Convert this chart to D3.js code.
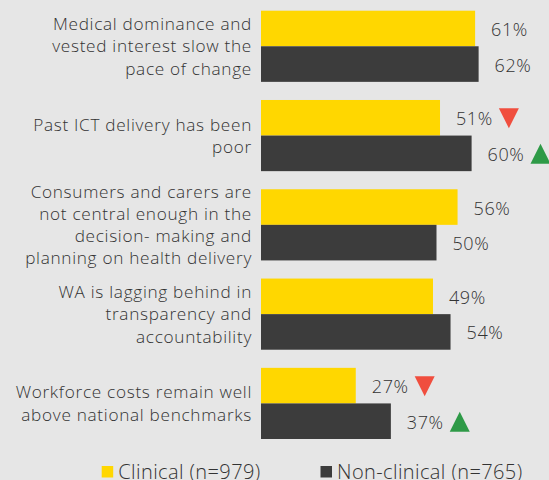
<!DOCTYPE html>
<html>
<head>
<meta charset="utf-8">
<script src="https://cdn.jsdelivr.net/npm/d3@7"></script>
<style>
  html, body { margin: 0; padding: 0; background: #e6e6e6; }
  svg { display: block; }
</style>
</head>
<body>
<script>
var svgWidth = 549;
var svgHeight = 480;

// categories, each label split in lines as in the picture
var categories = [
    ["Medical dominance and", "vested interest slow the", "pace of change"],
    ["Past ICT delivery has been", "poor"],
    ["Consumers and carers are", "not central enough in the", "decision- making and", "planning on health delivery"],
    ["WA is lagging behind in", "transparency and", "accountability"],
    ["Workforce costs remain well", "above national benchmarks"]
];
var seriesNames = ["Clinical (n=979)", "Non-clinical (n=765)"];
var clinical = [61, 51, 56, 49, 27];
var nonClinical = [62, 60, 50, 54, 37];
// arrows next to values: "down", "up" or null
var clinicalTrend = [null, "down", null, null, "down"];
var nonClinicalTrend = [null, "up", null, null, "up"];

var colors = ["#ffd700", "#3c3c3c"];

var svg = d3.select("body").append("svg")
    .attr("width", svgWidth)
    .attr("height", svgHeight)
    .style("font-family", "'Open Sans', sans-serif")
    .style("font-weight", 300);

svg.append("rect")
    .attr("width", svgWidth)
    .attr("height", svgHeight)
    .attr("fill", "#e6e6e6");

var idx = d3.range(categories.length);

var xScale = d3.scaleLinear()
    .domain([0, 100])
    .range([261, 612]);

var yScale = d3.scaleBand()
    .domain(idx)
    .range([10.7, 439])
    .paddingInner(0.203)
    .paddingOuter(0);

var ySub = d3.scaleBand()
    .domain([0, 1])
    .range([0, yScale.bandwidth()]);

var rows = [];
idx.forEach(function(i) {
    rows.push({cat: i, s: 0, v: clinical[i], trend: clinicalTrend[i]});
    rows.push({cat: i, s: 1, v: nonClinical[i], trend: nonClinicalTrend[i]});
});

// category labels
var labels = svg.append("g").selectAll("text")
    .data(idx)
    .enter()
    .append("text")
    .attr("text-anchor", "end")
    .attr("font-size", "17.2px")
    .attr("letter-spacing", "0.7px")
    .attr("fill", "#333");

labels.each(function(i) {
    var lines = categories[i];
    var lh = 22.3;
    var cy = yScale(i) + yScale.bandwidth() / 2;
    var y0 = cy - (lines.length - 1) * lh / 2;
    d3.select(this).selectAll("tspan")
        .data(lines)
        .enter()
        .append("tspan")
        .attr("x", 252)
        .attr("y", function(d, k) { return y0 + k * lh; })
        .attr("dy", "0.36em")
        .text(function(d) { return d; });
});

// bars
svg.append("g").selectAll("rect")
    .data(rows)
    .enter()
    .append("rect")
    .attr("x", xScale(0))
    .attr("y", function(d) { return yScale(d.cat) + ySub(d.s); })
    .attr("width", function(d) { return xScale(d.v) - xScale(0); })
    .attr("height", ySub.bandwidth())
    .attr("fill", function(d) { return colors[d.s]; });

// value labels
var vals = svg.append("g").selectAll("text")
    .data(rows)
    .enter()
    .append("text")
    .attr("x", function(d) { return xScale(d.v) + 16; })
    .attr("y", function(d) { return yScale(d.cat) + ySub(d.s) + ySub.bandwidth() / 2 + 1.2; })
    .attr("dy", "0.35em")
    .attr("font-size", "18px")
    .attr("letter-spacing", "0.6px")
    .attr("fill", "#333")
    .text(function(d) { return d.v + "%"; });

// trend triangles
vals.each(function(d) {
    if (!d.trend) return;
    var w = this.getComputedTextLength();
    var cx = xScale(d.v) + 16 + w + 16;
    var cy = yScale(d.cat) + ySub(d.s) + ySub.bandwidth() / 2 + 0.5;
    var pts = d.trend === "down"
        ? [[cx - 10, cy - 10], [cx + 10, cy - 10], [cx, cy + 10]]
        : [[cx - 10, cy + 10], [cx + 10, cy + 10], [cx, cy - 10]];
    svg.append("path")
        .attr("d", "M" + pts.join("L") + "Z")
        .attr("fill", d.trend === "down" ? "#f04e3e" : "#2e9a47");
});

// legend
var legendX = [101.7, 320.5];
var legend = svg.append("g").selectAll("g")
    .data(seriesNames)
    .enter()
    .append("g")
    .attr("transform", function(d, i) { return "translate(" + legendX[i] + ",466)"; });

legend.append("rect")
    .attr("width", 11.5)
    .attr("height", 11.5)
    .attr("fill", function(d, i) { return colors[i]; });

legend.append("text")
    .attr("x", 16.6)
    .attr("y", 12.5)
    .attr("font-size", "20px")
    .attr("letter-spacing", "0.4px")
    .attr("fill", "#333")
    .text(function(d) { return d; });
</script>
</body>
</html>
